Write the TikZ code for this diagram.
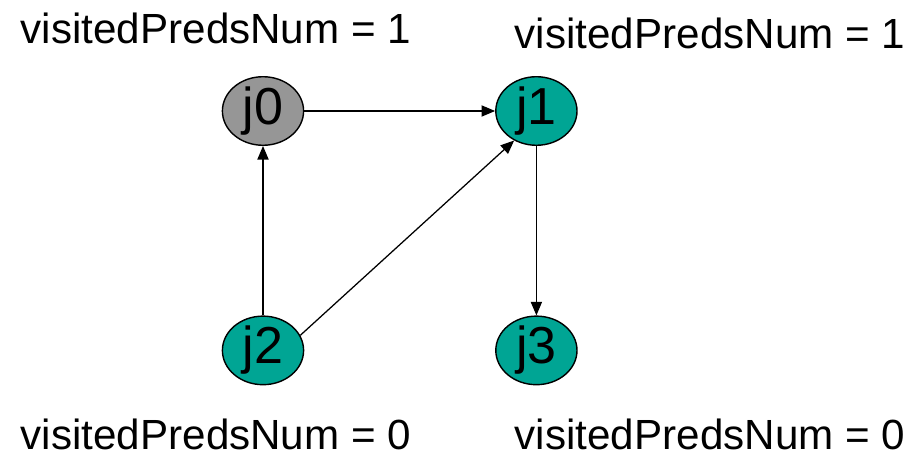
\documentclass[tikz,border=0pt]{standalone}
\usepackage{fontspec}
\setmainfont{Liberation Sans}
\usetikzlibrary{arrows.meta,shapes.geometric}
\definecolor{jobteal}{RGB}{0,165,148}
\definecolor{jobgray}{RGB}{150,150,150}
\tikzset{
	job/.style={ellipse, draw=black, line width=1pt, minimum width=2.03cm, minimum height=1.6cm, inner sep=0pt, font=\fontsize{37}{40}\selectfont},
	edge/.style={line width=0.9pt, -{Triangle[length=0.34cm, width=0.28cm]}},
	count/.style={font=\fontsize{30}{34}\selectfont, inner sep=1pt}
}

\begin{document}
\begin{tikzpicture}
			%%%%% START %%%%%
			
			\useasboundingbox (0, 0) rectangle (22.775, 11.4);
			
			\node[job, fill=jobgray] (j0) at (6.575, 8.625) {j0};
			\node[job, fill=jobteal] (j1) at (13.41, 8.625) {j1};
			\node[job, fill=jobteal] (j2) at (6.575, 2.64) {j2};
			\node[job, fill=jobteal] (j3) at (13.41, 2.64) {j3};
			
			\node[count] (c0) at (5.4, 10.7) {visitedPredsNum = 1};
			\node[count] (c1) at (17.75, 10.57) {visitedPredsNum = 1};
			\node[count] (c2) at (5.4, 0.55) {visitedPredsNum = 0};
			\node[count] (c3) at (17.75, 0.55) {visitedPredsNum = 0};
			
			\draw[edge] (j0) -- (j1);
			\draw[edge] (j2) -- (j0);
			\draw[edge] (j2.22) -- (j1.233);
			\draw[edge] (j1) -- (j3);
			
			%%%%% END %%%%%
		\end{tikzpicture}
\end{document}
